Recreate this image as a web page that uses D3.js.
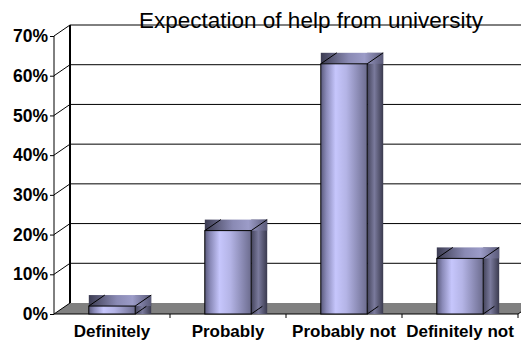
<!DOCTYPE html>
<html>
<head>
<meta charset="utf-8">
<script src="https://cdn.jsdelivr.net/npm/d3@7"></script>
<style>
  html, body { margin: 0; padding: 0; background: #fff; }
  svg { display: block; }
  text { font-family: "Liberation Sans", Arial, sans-serif; }
</style>
</head>
<body>
<script>
// Survey answers and their shares
const categories = ["Definitely", "Probably", "Probably not", "Definitely not"];
const shares = [0.02, 0.21, 0.63, 0.14];
const tickValues = [0, 0.1, 0.2, 0.3, 0.4, 0.5, 0.6, 0.7];
const title = "Expectation of help from university";

const W = 521, H = 342;
const depthX = 16, depthY = 11;           // oblique offset of the 3D box
const plotLeft = 54, plotRight = 518;
const yFrontZero = 314, yFrontTop = 36;

const svg = d3.select("body").append("svg")
  .attr("width", W).attr("height", H);

const x = d3.scaleBand().domain(categories).range([plotLeft, plotRight]).padding(0);
const y = d3.scaleLinear().domain([0, 0.7]).range([yFrontZero, yFrontTop]);
const barW = x.bandwidth() * 0.4;

// gradients for the bar faces
const defs = svg.append("defs");
function grad(id, stops) {
  const g = defs.append("linearGradient").attr("id", id)
    .attr("x1", "0%").attr("x2", "100%").attr("y1", "0%").attr("y2", "0%");
  stops.forEach(([o, c]) => g.append("stop").attr("offset", o).attr("stop-color", c));
}
grad("frontFace", [[0, "#5a5a7c"], [0.12, "#8a8ab8"], [0.32, "#c6c6fc"], [0.55, "#b4b4e6"], [0.85, "#8484ac"], [1, "#6c6c8e"]]);
grad("sideFace", [[0, "#44445c"], [0.45, "#7a7a9c"], [1, "#3a3a4e"]]);
grad("topFace", [[0, "#3c3c52"], [0.45, "#8a8ab4"], [0.7, "#9c9cc8"], [1, "#5a5a78"]]);

// back wall gridlines
const wall = svg.append("g");
wall.selectAll("line.grid")
  .data(tickValues.filter(d => d > 0))
  .join("line")
  .attr("class", "grid")
  .attr("x1", plotLeft + depthX).attr("x2", plotRight + depthX)
  .attr("y1", d => y(d) - depthY).attr("y2", d => y(d) - depthY)
  .attr("stroke", "#000").attr("stroke-width", 1);

// side wall diagonals
wall.selectAll("line.diag")
  .data(tickValues.filter(d => d > 0))
  .join("line")
  .attr("class", "diag")
  .attr("x1", plotLeft).attr("y1", d => y(d))
  .attr("x2", plotLeft + depthX).attr("y2", d => y(d) - depthY)
  .attr("stroke", "#000").attr("stroke-width", 1);

// floor
const y0 = y(0);
svg.append("path")
  .attr("d", `M${plotLeft},${y0} L${plotRight},${y0} L${plotRight + depthX},${y0 - depthY} L${plotLeft + depthX},${y0 - depthY} Z`)
  .attr("fill", "#808080");
svg.append("path")
  .attr("d", `M${plotLeft + depthX},${y0 - depthY} L${plotLeft},${y0} L${plotRight},${y0} L${plotRight + depthX},${y0 - depthY}`)
  .attr("fill", "none").attr("stroke", "#000").attr("stroke-width", 1);

// back-left wall edge
svg.append("line")
  .attr("x1", plotLeft + depthX).attr("x2", plotLeft + depthX)
  .attr("y1", y(0.7) - depthY).attr("y2", y0 - depthY)
  .attr("stroke", "#000").attr("stroke-width", 2);

// title
svg.append("text")
  .attr("x", 311).attr("y", 28)
  .attr("text-anchor", "middle")
  .attr("font-size", 22.5)
  .attr("fill", "#000")
  .text(title);

// bars
const bars = svg.append("g").selectAll("g.bar")
  .data(categories.map((c, i) => ({ c, v: shares[i] })))
  .join("g").attr("class", "bar");

bars.each(function (d) {
  const g = d3.select(this);
  const x0 = x(d.c) + (x.bandwidth() - barW) / 2;
  const x1 = x0 + barW;
  const yt = y(d.v);
  // side face
  g.append("rect")
    .attr("x", x1).attr("y", yt - depthY)
    .attr("width", depthX).attr("height", y0 - yt + depthY)
    .attr("fill", "url(#sideFace)");
  // top face
  g.append("rect")
    .attr("x", x0).attr("y", yt - depthY)
    .attr("width", barW + depthX).attr("height", depthY)
    .attr("fill", "url(#topFace)");
  // front face
  g.append("rect")
    .attr("x", x0).attr("y", yt)
    .attr("width", barW).attr("height", y0 - yt)
    .attr("fill", "url(#frontFace)")
    .attr("stroke", "#000").attr("stroke-width", 1);
  // box edges
  const edges = [
    [x0, yt, x0 + depthX, yt - depthY],
    [x1, yt, x1 + depthX, yt - depthY],
    [x1, y0, x1 + depthX * 0.7, y0 - depthY * 0.7]
  ];
  g.selectAll("line.edge").data(edges).join("line")
    .attr("class", "edge")
    .attr("x1", e => e[0]).attr("y1", e => e[1])
    .attr("x2", e => e[2]).attr("y2", e => e[3])
    .attr("stroke", "#000").attr("stroke-width", 1);
});

// value axis on the front edge
const yAxis = svg.append("g")
  .attr("transform", `translate(${plotLeft},0)`)
  .call(d3.axisLeft(y).tickValues(tickValues).tickFormat(d3.format(".0%")).tickSize(4).tickPadding(2));
yAxis.select(".domain").attr("stroke", "#000").attr("d", `M0,${y(0.7)}V${y0}`);
yAxis.selectAll(".tick line").attr("stroke", "#000");
yAxis.selectAll(".tick text")
  .attr("font-family", "'Liberation Sans', Arial, sans-serif")
  .attr("font-size", 17.5).attr("font-weight", "bold").attr("fill", "#000");

// category axis
const xAxis = svg.append("g")
  .attr("transform", `translate(0,${y0})`);
xAxis.selectAll("line.ctick")
  .data(categories)
  .join("line").attr("class", "ctick")
  .attr("x1", d => x(d) + x.bandwidth()).attr("x2", d => x(d) + x.bandwidth())
  .attr("y1", 0).attr("y2", 4)
  .attr("stroke", "#000");
xAxis.selectAll("text.clabel")
  .data(categories)
  .join("text").attr("class", "clabel")
  .attr("x", d => x(d) + x.bandwidth() / 2)
  .attr("y", 23)
  .attr("text-anchor", "middle")
  .attr("font-size", 17).attr("font-weight", "bold").attr("fill", "#000")
  .text(d => d);
</script>
</body>
</html>
